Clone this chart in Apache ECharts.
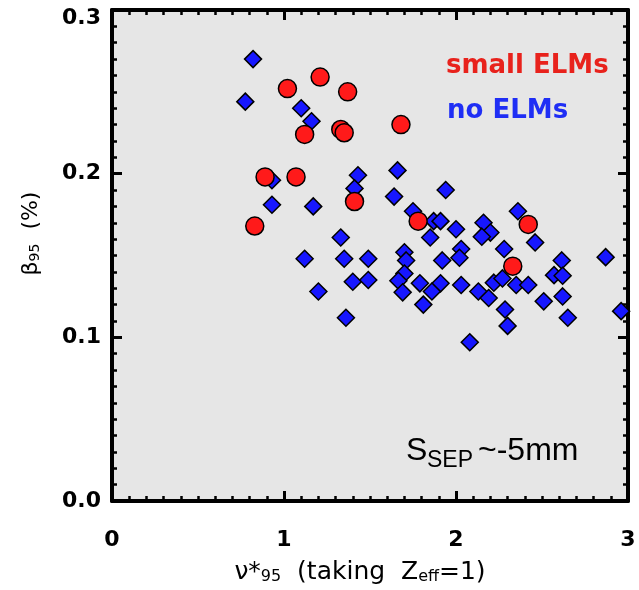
<!DOCTYPE html>
<html><head><meta charset="utf-8">
<script src="https://cdn.jsdelivr.net/npm/echarts@6/dist/echarts.min.js"></script>
<style>html,body{margin:0;padding:0;background:#fff}#c{width:639px;height:590px}</style>
</head><body><div id="c"></div>
<script>
// ---- data ----
const xTickLabels = ['0', '1', '2', '3'];
const yTickLabels = ['0.0', '0.1', '0.2', '0.3'];

const smallElmX = [1.02, 1.21, 1.37, 1.12, 1.33, 1.35, 1.68, 0.89, 1.07, 1.41, 0.83, 1.78, 2.42, 2.33];
const smallElmY = [0.252, 0.259, 0.250, 0.224, 0.227, 0.225, 0.230, 0.198, 0.198, 0.183, 0.168, 0.171, 0.169, 0.1435];

const noElmX = [0.82, 0.775, 1.10, 1.16, 0.93, 1.43, 1.41, 0.93, 1.17, 1.33, 1.12, 1.35, 1.49, 1.40, 1.49, 1.20, 1.36,
  1.66, 1.64, 1.94, 1.75, 1.87, 1.91, 2.00, 1.85, 2.16, 2.20, 2.15, 2.36, 2.46, 2.28, 2.03, 1.70, 1.71, 1.92, 2.02,
  1.70, 1.665, 1.69, 1.79, 1.91, 1.86, 1.81, 2.03, 2.13, 2.19, 2.22, 2.27, 2.285, 2.30, 2.08, 2.35, 2.42, 2.51,
  2.615, 2.57, 2.62, 2.62, 2.65, 2.87, 2.96];
const noElmY = [0.270, 0.244, 0.240, 0.232, 0.196, 0.199, 0.191, 0.181, 0.180, 0.161, 0.148, 0.148, 0.148, 0.134, 0.135, 0.128, 0.112,
  0.202, 0.186, 0.190, 0.177, 0.171, 0.171, 0.166, 0.161, 0.170, 0.164, 0.1615, 0.177, 0.158, 0.154, 0.154, 0.152, 0.147, 0.147, 0.1486,
  0.139, 0.1346, 0.1275, 0.133, 0.133, 0.128, 0.120, 0.132, 0.128, 0.124, 0.1334, 0.136, 0.117, 0.107, 0.097, 0.132, 0.132, 0.122,
  0.147, 0.138, 0.1376, 0.125, 0.112, 0.149, 0.116];

const legendLabels = ['small ELMs', 'no ELMs'];

// ---- chart ----
const zip = (xs, ys) => xs.map((x, i) => [x, ys[i]]);
const chart = echarts.init(document.getElementById('c'), null, {renderer: 'canvas'});

const tickFont = {fontSize: 22, fontWeight: 'bold', color: '#000', fontFamily: 'DejaVu Sans'};
const lineSt = {color: '#000', width: 4};

function mkX(pos, showLabel) {
  return {
    type: 'value', gridIndex: 0, position: pos, min: 0, max: 3, interval: 1,
    axisLine: {show: true, onZero: false, lineStyle: lineSt},
    axisTick: {show: true, inside: true, length: 10, lineStyle: {color: '#000', width: 3}},
    minorTick: {show: true, splitNumber: 10, length: 5, lineStyle: {color: '#000', width: 2.5}},
    splitLine: {show: false}, minorSplitLine: {show: false},
    axisLabel: Object.assign({show: showLabel, margin: 28,
      formatter: v => xTickLabels[Math.round(v)]}, tickFont)
  };
}
function mkY(pos, showLabel) {
  const n = yTickLabels.length - 1;
  return {
    type: 'value', gridIndex: 0, position: pos, min: 0, max: 0.3, interval: 0.1,
    axisLine: {show: true, onZero: false, lineStyle: lineSt},
    axisTick: {show: true, inside: true, length: 10, lineStyle: {color: '#000', width: 3}},
    minorTick: {show: true, splitNumber: 10, length: 5, lineStyle: {color: '#000', width: 2.5}},
    splitLine: {show: false}, minorSplitLine: {show: false},
    axisLabel: Object.assign({show: showLabel, margin: 11,
      formatter: v => {
        const i = Math.round(v * 10);
        return i === n ? '{top|' + yTickLabels[i] + '}' : yTickLabels[i];
      },
      rich: {top: {fontSize: 22, fontWeight: 'bold', color: '#000', fontFamily: 'DejaVu Sans', padding: [16, 0, 0, 0]}}
    }, tickFont)
  };
}

const xMain = mkX('bottom', true);
xMain.name = '{t|ν*}{s|95}{t|  (taking  Z}{s|eff}{t|=1)}';
xMain.nameLocation = 'middle';
xMain.nameGap = 52;
xMain.nameTextStyle = {
  padding: [0, 20, 0, 0],
  rich: {
    t: {fontSize: 25, lineHeight: 32, fontFamily: 'DejaVu Sans', color: '#000', verticalAlign: 'bottom'},
    s: {fontSize: 16, lineHeight: 16, fontFamily: 'DejaVu Sans', color: '#000', verticalAlign: 'bottom'}
  }
};
const yMain = mkY('left', true);
yMain.name = '{t|β}{s|95}{t|  (%)}';
yMain.nameLocation = 'middle';
yMain.nameGap = 70;
yMain.nameRotate = 90;
yMain.nameTextStyle = {
  padding: [0, 0, 0, 44],
  rich: {
    t: {fontSize: 22, lineHeight: 28, fontFamily: 'DejaVu Sans', color: '#000', verticalAlign: 'bottom'},
    s: {fontSize: 14, lineHeight: 14, fontFamily: 'DejaVu Sans', color: '#000', verticalAlign: 'bottom'}
  }
};

const option = {
  animation: false,
  backgroundColor: '#ffffff',
  grid: {left: 112, right: 11, top: 10, bottom: 86, show: true, backgroundColor: '#e6e6e6', borderWidth: 0},
  xAxis: [xMain, mkX('top', false)],
  yAxis: [yMain, mkY('right', false)],
  series: [
    {
      name: legendLabels[1], type: 'scatter', xAxisIndex: 0, yAxisIndex: 0,
      symbol: 'diamond', symbolSize: 17,
      itemStyle: {color: '#1717ff', borderColor: '#000', borderWidth: 1.5, opacity: 1},
      data: zip(noElmX, noElmY)
    },
    {
      name: legendLabels[0], type: 'scatter', xAxisIndex: 0, yAxisIndex: 0,
      symbol: 'circle', symbolSize: 18,
      itemStyle: {color: '#ff1a1a', borderColor: '#000', borderWidth: 1.5, opacity: 1},
      data: zip(smallElmX, smallElmY)
    }
  ],
  graphic: [
    {type: 'text', x: 446, y: 66.5, style: {text: legendLabels[0], fill: '#e8221c',
      font: 'bold 26px "DejaVu Sans"', verticalAlign: 'middle', textVerticalAlign: 'middle'}},
    {type: 'text', x: 447, y: 111, style: {text: legendLabels[1], fill: '#1f2ef5',
      font: 'bold 26px "DejaVu Sans"', verticalAlign: 'middle', textVerticalAlign: 'middle'}},
    {type: 'text', x: 406, y: 451.5, style: {text: 'S', fill: '#000',
      font: '32px "Liberation Sans"', verticalAlign: 'middle', textVerticalAlign: 'middle'}},
    {type: 'text', x: 427, y: 461, style: {text: 'SEP', fill: '#000',
      font: '23px "Liberation Sans"', verticalAlign: 'middle', textVerticalAlign: 'middle'}},
    {type: 'text', x: 478, y: 451.5, style: {text: '~-5mm', fill: '#000',
      font: '32px "Liberation Sans"', verticalAlign: 'middle', textVerticalAlign: 'middle'}}
  ]
};
chart.setOption(option);
</script>
</body></html>
